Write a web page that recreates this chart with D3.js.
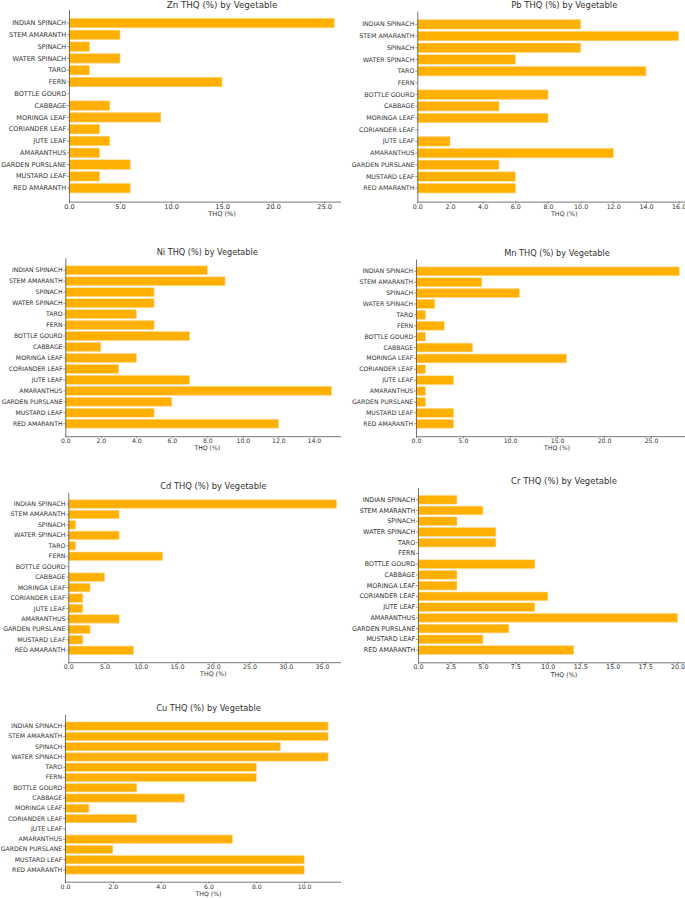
<!DOCTYPE html>
<html>
<head>
<meta charset="utf-8">
<script src="https://cdn.jsdelivr.net/npm/d3@7"></script>
<style>
  html, body { margin: 0; padding: 0; background: #fff; }
  svg text { font-family: "DejaVu Sans", sans-serif; fill: #333; }
</style>
</head>
<body>
<svg id="chart" width="685" height="898"></svg>
<script>
const vegetables = ["INDIAN SPINACH", "STEM AMARANTH", "SPINACH", "WATER SPINACH", "TARO", "FERN",
  "BOTTLE GOURD", "CABBAGE", "MORINGA LEAF", "CORIANDER LEAF", "JUTE LEAF", "AMARANTHUS",
  "GARDEN PURSLANE", "MUSTARD LEAF", "RED AMARANTH"];

const metals = ["Zn", "Pb", "Ni", "Mn", "Cd", "Cr", "Cu"];

const znValues = [26, 5, 2, 5, 2, 15, 0, 4, 9, 3, 4, 3, 6, 3, 6];
const pbValues = [10, 16, 10, 6, 14, 0, 8, 5, 8, 0, 2, 12, 5, 6, 6];
const niValues = [8, 9, 5, 5, 4, 5, 7, 2, 4, 3, 7, 15, 6, 5, 12];
const mnValues = [28, 7, 11, 2, 1, 3, 1, 6, 16, 1, 4, 1, 1, 4, 4];
const cdValues = [37, 7, 1, 7, 1, 13, 0, 5, 3, 2, 2, 7, 3, 2, 9];
const crValues = [3, 5, 3, 6, 6, 0, 9, 3, 3, 10, 9, 20, 7, 5, 12];
const cuValues = [11, 11, 9, 11, 8, 8, 3, 5, 1, 3, 0, 7, 2, 10, 10];

const xMax = [30, 18, 16, 30, 40, 22.5, 12];
const xTicks = [
  [0, 5, 10, 15, 20, 25],
  [0, 2, 4, 6, 8, 10, 12, 14, 16],
  [0, 2, 4, 6, 8, 10, 12, 14],
  [0, 5, 10, 15, 20, 25],
  [0, 5, 10, 15, 20, 25, 30, 35],
  [0, 2.5, 5, 7.5, 10, 12.5, 15, 17.5, 20],
  [0, 2, 4, 6, 8, 10]
];

const seriesList = [znValues, pbValues, niValues, mnValues, cdValues, crValues, cuValues];

// panel placement (cropped subplots), fs = tick font size of each crop
const panels = [
  { left: 69,    top: 9.6,   width: 306, height: 192,   clipL: 0,   clipR: 341, fs: 6.55, titleDy: -4.6 },
  { left: 417.3, top: 11,    width: 294, height: 190.6, clipL: 342, clipR: 685, fs: 6.33, titleDy: -5.7 },
  { left: 65.3,  top: 257.8, width: 284, height: 178.4, clipL: 0,   clipR: 341, fs: 6.13, titleDy: -5.7 },
  { left: 416,   top: 258.9, width: 282, height: 177.3, clipL: 342, clipR: 685, fs: 6.17, titleDy: -5.7 },
  { left: 68.3,  top: 492.1, width: 290, height: 170.1, clipL: 0,   clipR: 341, fs: 6.29, titleDy: -5.7 },
  { left: 418,   top: 487.5, width: 292, height: 174.8, clipL: 342, clipR: 685, fs: 6.37, titleDy: -5.7 },
  { left: 65,    top: 714.4, width: 287, height: 167.3, clipL: 0,   clipR: 341, fs: 6.2,  titleDy: -5.7 }
];

const svg = d3.select("#chart");
const fmt = d3.format(".1f");

panels.forEach((p, i) => {
    const values = seriesList[i];

    svg.append("clipPath")
        .attr("id", "clip" + i)
        .append("rect")
        .attr("x", p.clipL).attr("y", p.top - 40)
        .attr("width", p.clipR - p.clipL).attr("height", p.height + 80);

    const g = svg.append("g").attr("clip-path", `url(#clip${i})`);
    const inner = g.append("g").attr("transform", `translate(${p.left},${p.top})`);

    const x = d3.scaleLinear().domain([0, xMax[i]]).range([0, p.width]);
    const y = d3.scaleBand()
        .domain(vegetables)
        .range([0, p.height])
        .paddingInner(0.2)
        .paddingOuter(0.74);

    // BARRAS
    inner.selectAll("rect.bar")
        .data(values)
        .enter().append("rect")
        .attr("class", "bar")
        .attr("x", x(0))
        .attr("y", (d, j) => y(vegetables[j]))
        .attr("width", d => x(d) - x(0))
        .attr("height", y.bandwidth())
        .attr("fill", "#FFB000")
        .attr("stroke", "#FFD27A")
        .attr("stroke-width", 0.6);

    // EIXO X
    const xAxis = inner.append("g")
        .attr("transform", `translate(0,${p.height})`)
        .call(d3.axisBottom(x).tickValues(xTicks[i]).tickFormat(fmt).tickSize(2).tickPadding(0.5).tickSizeOuter(0));
    xAxis.selectAll("text").attr("font-size", p.fs).attr("fill", "#333");

    // EIXO Y
    const yAxis = inner.append("g")
        .call(d3.axisLeft(y).tickSize(2).tickPadding(0.8).tickSizeOuter(0));
    yAxis.selectAll("text").attr("font-size", p.fs).attr("fill", "#333");

    [xAxis, yAxis].forEach(a => {
        a.select(".domain").attr("stroke", "#555").attr("stroke-width", 0.8);
        a.selectAll(".tick line").attr("stroke", "#555").attr("stroke-width", 0.6);
        a.attr("font-family", null);
    });

    inner.append("text")
        .attr("x", p.width / 2)
        .attr("y", p.height + 12.5)
        .attr("text-anchor", "middle")
        .attr("dominant-baseline", "middle")
        .attr("font-size", p.fs)
        .text("THQ (%)");

    inner.append("text")
        .attr("x", p.width / 2)
        .attr("y", p.titleDy)
        .attr("text-anchor", "middle")
        .attr("dominant-baseline", "middle")
        .attr("font-size", p.fs * 1.33)
        .attr("fill", "#444")
        .text(`${metals[i]} THQ (%) by Vegetable`);
});
</script>
</body>
</html>
